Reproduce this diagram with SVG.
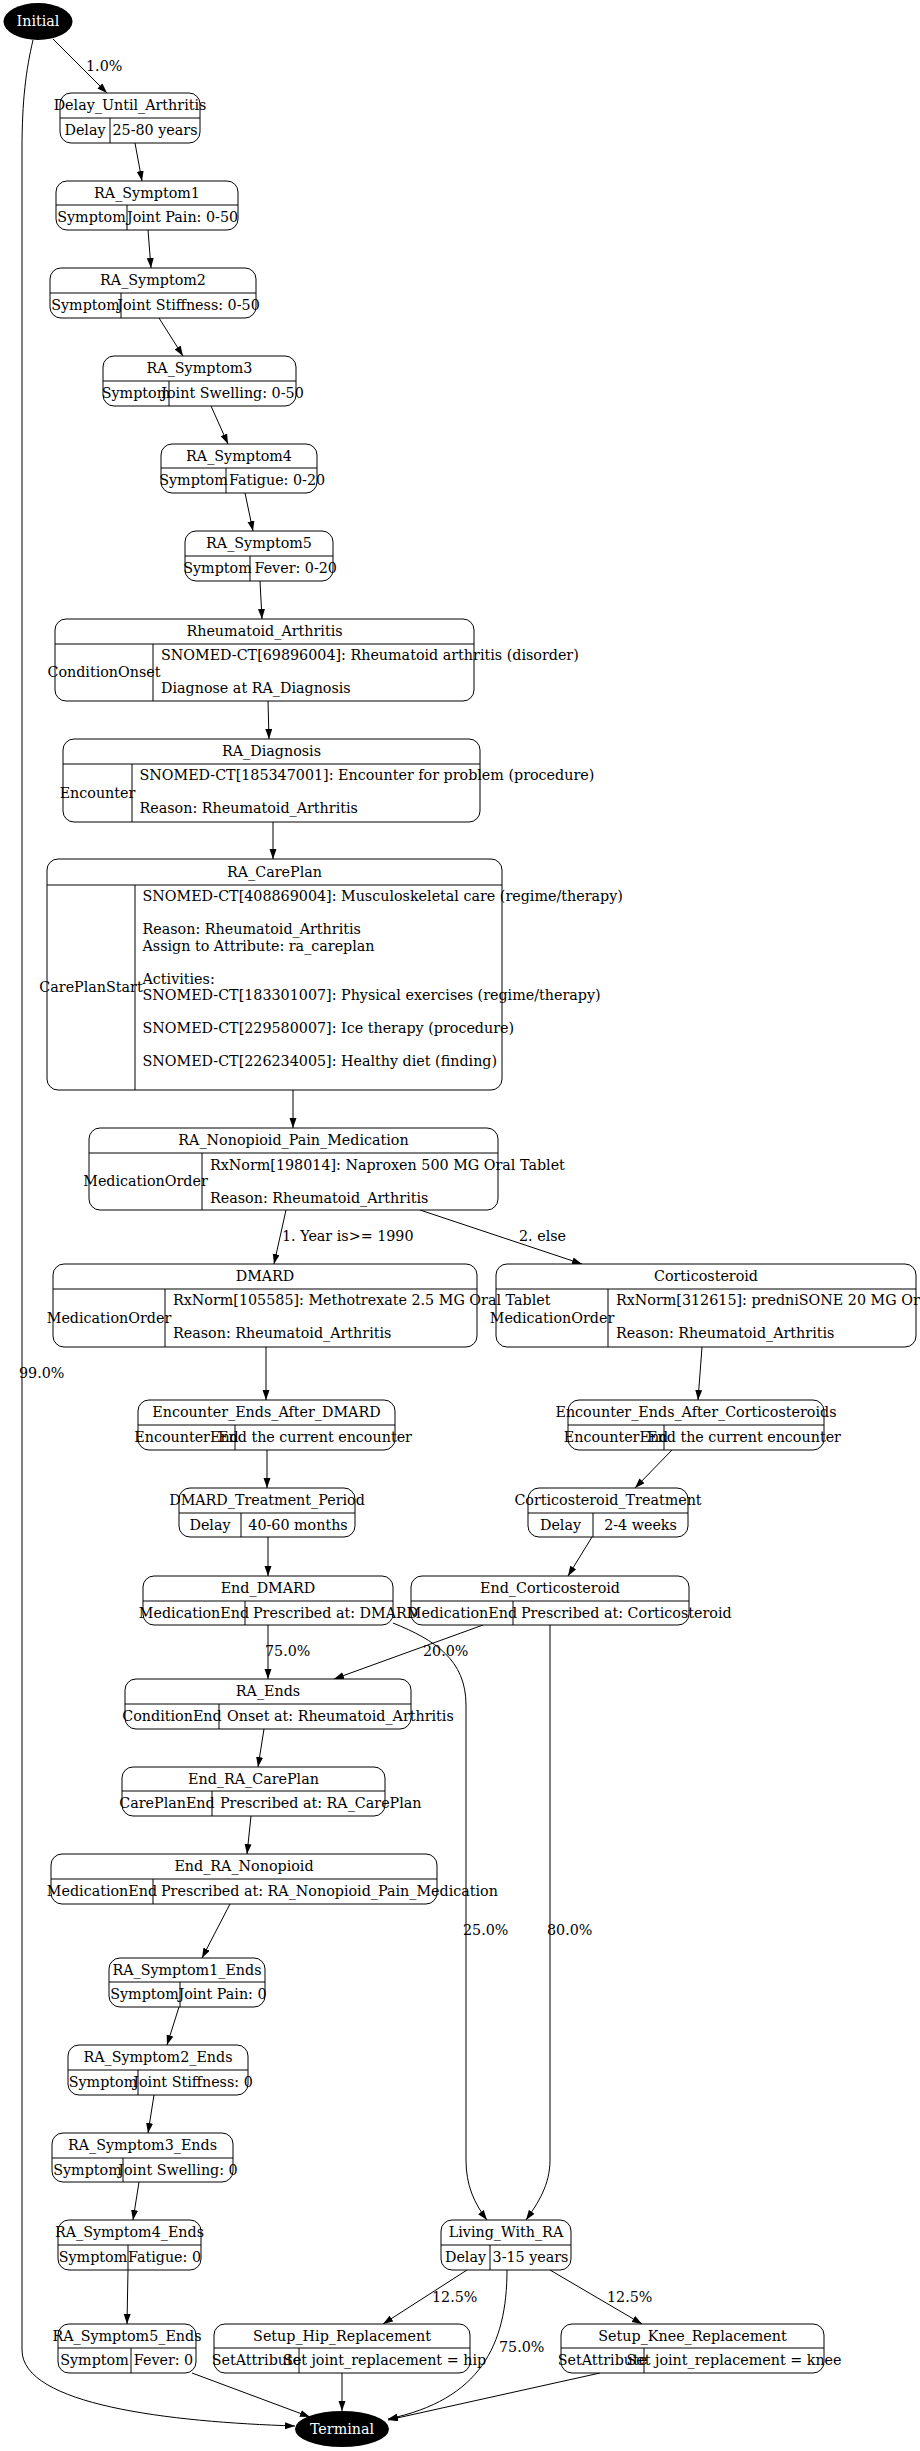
<svg xmlns="http://www.w3.org/2000/svg" width="920" height="2451" viewBox="0 0 920 2451">
<style>
text{font-family:"DejaVu Serif","Liberation Serif",serif;font-size:14.3px;fill:#000}
.c{text-anchor:middle}
.w{fill:#fff}
.n rect{fill:#fff;stroke:#000;stroke-width:1}
.n line{stroke:#000;stroke-width:1}
.e path{fill:none;stroke:#000;stroke-width:1}
</style>
<defs>
<marker id="ah" markerUnits="userSpaceOnUse" markerWidth="11" markerHeight="8" refX="10" refY="3.5" orient="auto">
<path d="M0,0 L10,3.5 L0,7 z" fill="#000"/>
</marker>
</defs>
<rect width="920" height="2451" fill="#fff"/>

<g id="edges" class="e">
<path marker-end="url(#ah)" d="M53,39 L107,93"/>
<path marker-end="url(#ah)" d="M33,40 C26,70 22,100 22,150 L22,2350 C22,2405 170,2422 295,2426"/>
<path marker-end="url(#ah)" d="M135,143 L142,181"/>
<path marker-end="url(#ah)" d="M148,230 L151,268"/>
<path marker-end="url(#ah)" d="M159,318 L183,356"/>
<path marker-end="url(#ah)" d="M211,406 L228,444"/>
<path marker-end="url(#ah)" d="M245,493 L253,531"/>
<path marker-end="url(#ah)" d="M260,581 L262,619"/>
<path marker-end="url(#ah)" d="M268,701 L269,739"/>
<path marker-end="url(#ah)" d="M273,822 L273,859"/>
<path marker-end="url(#ah)" d="M293,1090 L293,1128"/>
<path marker-end="url(#ah)" d="M286,1210 L274,1264"/>
<path marker-end="url(#ah)" d="M420,1210 L582,1264"/>
<path marker-end="url(#ah)" d="M266,1347 L266,1400"/>
<path marker-end="url(#ah)" d="M702,1347 L698,1400"/>
<path marker-end="url(#ah)" d="M267,1450 L267,1488"/>
<path marker-end="url(#ah)" d="M672,1450 L635,1488"/>
<path marker-end="url(#ah)" d="M268,1537 L268,1576"/>
<path marker-end="url(#ah)" d="M592,1537 L568,1576"/>
<path marker-end="url(#ah)" d="M268,1625 L268,1679"/>
<path marker-end="url(#ah)" d="M483,1625 L334,1679"/>
<path marker-end="url(#ah)" d="M393,1623 C435,1640 466,1660 466,1705 L466,2160 C466,2185 474,2203 487,2220"/>
<path marker-end="url(#ah)" d="M550,1625 L550,2160 C550,2185 538,2203 526,2220"/>
<path marker-end="url(#ah)" d="M264,1729 L258,1767"/>
<path marker-end="url(#ah)" d="M251,1816 L247,1854"/>
<path marker-end="url(#ah)" d="M230,1904 L202,1958"/>
<path marker-end="url(#ah)" d="M179,2007 L167,2045"/>
<path marker-end="url(#ah)" d="M154,2095 L148,2133"/>
<path marker-end="url(#ah)" d="M139,2182 L133,2220"/>
<path marker-end="url(#ah)" d="M128,2270 L127,2324"/>
<path marker-end="url(#ah)" d="M192,2373 L310,2417"/>
<path marker-end="url(#ah)" d="M342,2373 L342,2411"/>
<path marker-end="url(#ah)" d="M467,2270 L383,2324"/>
<path marker-end="url(#ah)" d="M550,2270 L642,2324"/>
<path marker-end="url(#ah)" d="M507,2270 C507,2345 480,2400 388,2419"/>
<path marker-end="url(#ah)" d="M600,2373 L388,2420"/>
<text x="86" y="70.5">1.0%</text>
<text x="19" y="1378">99.0%</text>
<text x="282" y="1241">1. Year is&gt;= 1990</text>
<text x="519" y="1241">2. else</text>
<text x="265" y="1656">75.0%</text>
<text x="423" y="1656">20.0%</text>
<text x="463" y="1935">25.0%</text>
<text x="547" y="1935">80.0%</text>
<text x="432" y="2302">12.5%</text>
<text x="607" y="2302">12.5%</text>
<text x="499" y="2352">75.0%</text>
</g>

<g id="Initial"><ellipse cx="38" cy="21.5" rx="34.5" ry="18.5" fill="#000"/><text class="c w" x="38" y="26">Initial</text></g>

<g id="Delay_Until_Arthritis" class="n"><rect x="60" y="93" width="140" height="50" rx="11"/><line x1="60" y1="118" x2="200" y2="118"/><line x1="110" y1="118" x2="110" y2="143"/>
<text class="c" x="130" y="110">Delay_Until_Arthritis</text><text class="c" x="85" y="135">Delay</text><text class="c" x="155" y="135">25-80 years</text></g>

<g id="RA_Symptom1" class="n"><rect x="56" y="181" width="182" height="49" rx="11"/><line x1="56" y1="205" x2="238" y2="205"/><line x1="127" y1="205" x2="127" y2="230"/>
<text class="c" x="147" y="197.5">RA_Symptom1</text><text class="c" x="91.5" y="222">Symptom</text><text class="c" x="182.5" y="222">Joint Pain: 0-50</text></g>

<g id="RA_Symptom2" class="n"><rect x="50" y="268" width="206" height="50" rx="11"/><line x1="50" y1="293" x2="256" y2="293"/><line x1="121" y1="293" x2="121" y2="318"/>
<text class="c" x="153" y="285">RA_Symptom2</text><text class="c" x="85.5" y="310">Symptom</text><text class="c" x="188.5" y="310">Joint Stiffness: 0-50</text></g>

<g id="RA_Symptom3" class="n"><rect x="103" y="356" width="193" height="50" rx="11"/><line x1="103" y1="381" x2="296" y2="381"/><line x1="169" y1="381" x2="169" y2="406"/>
<text class="c" x="199.5" y="373">RA_Symptom3</text><text class="c" x="136" y="398">Symptom</text><text class="c" x="232.5" y="398">Joint Swelling: 0-50</text></g>

<g id="RA_Symptom4" class="n"><rect x="161" y="444" width="156" height="49" rx="11"/><line x1="161" y1="468" x2="317" y2="468"/><line x1="226" y1="468" x2="226" y2="493"/>
<text class="c" x="239" y="460.5">RA_Symptom4</text><text class="c" x="193.5" y="485">Symptom</text><text x="229" y="485">Fatigue: 0-20</text></g>

<g id="RA_Symptom5" class="n"><rect x="185" y="531" width="148" height="50" rx="11"/><line x1="185" y1="556" x2="333" y2="556"/><line x1="250" y1="556" x2="250" y2="581"/>
<text class="c" x="259" y="548">RA_Symptom5</text><text class="c" x="217.5" y="573">Symptom</text><text x="254.5" y="573">Fever: 0-20</text></g>

<g id="Rheumatoid_Arthritis" class="n"><rect x="55" y="619" width="419" height="82" rx="11"/><line x1="55" y1="644" x2="474" y2="644"/><line x1="153" y1="644" x2="153" y2="701"/>
<text class="c" x="264.5" y="636">Rheumatoid_Arthritis</text><text class="c" x="104" y="677">ConditionOnset</text>
<text x="161" y="660">SNOMED-CT[69896004]: Rheumatoid arthritis (disorder)</text><text x="161" y="693">Diagnose at RA_Diagnosis</text></g>

<g id="RA_Diagnosis" class="n"><rect x="63" y="739" width="417" height="83" rx="11"/><line x1="63" y1="764" x2="480" y2="764"/><line x1="132" y1="764" x2="132" y2="822"/>
<text class="c" x="271.5" y="756">RA_Diagnosis</text><text class="c" x="97.5" y="797.5">Encounter</text>
<text x="139.5" y="780">SNOMED-CT[185347001]: Encounter for problem (procedure)</text><text x="139.5" y="813">Reason: Rheumatoid_Arthritis</text></g>

<g id="RA_CarePlan" class="n"><rect x="47" y="859" width="455" height="231" rx="11"/><line x1="47" y1="885" x2="502" y2="885"/><line x1="135" y1="885" x2="135" y2="1090"/>
<text class="c" x="274.5" y="876.5">RA_CarePlan</text><text class="c" x="91" y="992">CarePlanStart</text>
<text x="142.5" y="901">SNOMED-CT[408869004]: Musculoskeletal care (regime/therapy)</text>
<text x="142.5" y="934">Reason: Rheumatoid_Arthritis</text>
<text x="142.5" y="950.5">Assign to Attribute: ra_careplan</text>
<text x="142.5" y="983.5">Activities:</text>
<text x="142.5" y="1000">SNOMED-CT[183301007]: Physical exercises (regime/therapy)</text>
<text x="142.5" y="1033">SNOMED-CT[229580007]: Ice therapy (procedure)</text>
<text x="142.5" y="1066">SNOMED-CT[226234005]: Healthy diet (finding)</text></g>

<g id="RA_Nonopioid_Pain_Medication" class="n"><rect x="89" y="1128" width="409" height="82" rx="11"/><line x1="89" y1="1153" x2="498" y2="1153"/><line x1="202" y1="1153" x2="202" y2="1210"/>
<text class="c" x="293.5" y="1145">RA_Nonopioid_Pain_Medication</text><text class="c" x="145.5" y="1186">MedicationOrder</text>
<text x="210" y="1169.5">RxNorm[198014]: Naproxen 500 MG Oral Tablet</text><text x="210" y="1202.5">Reason: Rheumatoid_Arthritis</text></g>

<g id="Corticosteroid" class="n"><rect x="496" y="1264" width="420" height="83" rx="11"/><line x1="496" y1="1289" x2="916" y2="1289"/><line x1="608" y1="1289" x2="608" y2="1347"/>
<text class="c" x="706" y="1281">Corticosteroid</text><text class="c" x="552" y="1322.5">MedicationOrder</text>
<text x="616" y="1305">RxNorm[312615]: predniSONE 20 MG Oral Tablet</text><text x="616" y="1338">Reason: Rheumatoid_Arthritis</text></g>

<g id="DMARD" class="n"><rect x="53" y="1264" width="424" height="83" rx="11"/><line x1="53" y1="1289" x2="477" y2="1289"/><line x1="165" y1="1289" x2="165" y2="1347"/>
<text class="c" x="265" y="1281">DMARD</text><text class="c" x="109" y="1322.5">MedicationOrder</text>
<text x="173" y="1305">RxNorm[105585]: Methotrexate 2.5 MG Oral Tablet</text><text x="173" y="1338">Reason: Rheumatoid_Arthritis</text></g>

<g id="Encounter_Ends_After_DMARD" class="n"><rect x="138" y="1400" width="257" height="50" rx="11"/><line x1="138" y1="1425" x2="395" y2="1425"/><line x1="235" y1="1425" x2="235" y2="1450"/>
<text class="c" x="266.5" y="1417">Encounter_Ends_After_DMARD</text><text class="c" x="186.5" y="1442">EncounterEnd</text><text class="c" x="315" y="1442">End the current encounter</text></g>

<g id="Encounter_Ends_After_Corticosteroids" class="n"><rect x="568" y="1400" width="256" height="50" rx="11"/><line x1="568" y1="1425" x2="824" y2="1425"/><line x1="664" y1="1425" x2="664" y2="1450"/>
<text class="c" x="696" y="1417">Encounter_Ends_After_Corticosteroids</text><text class="c" x="616" y="1442">EncounterEnd</text><text class="c" x="744" y="1442">End the current encounter</text></g>

<g id="DMARD_Treatment_Period" class="n"><rect x="179" y="1488" width="176" height="49" rx="11"/><line x1="179" y1="1513" x2="355" y2="1513"/><line x1="241" y1="1513" x2="241" y2="1537"/>
<text class="c" x="267" y="1505">DMARD_Treatment_Period</text><text class="c" x="210" y="1529.5">Delay</text><text class="c" x="298" y="1529.5">40-60 months</text></g>

<g id="Corticosteroid_Treatment" class="n"><rect x="528" y="1488" width="160" height="49" rx="11"/><line x1="528" y1="1513" x2="688" y2="1513"/><line x1="593" y1="1513" x2="593" y2="1537"/>
<text class="c" x="608" y="1505">Corticosteroid_Treatment</text><text class="c" x="560.5" y="1529.5">Delay</text><text class="c" x="640.5" y="1529.5">2-4 weeks</text></g>

<g id="End_Corticosteroid" class="n"><rect x="411" y="1576" width="278" height="49" rx="11"/><line x1="411" y1="1601" x2="689" y2="1601"/><line x1="513" y1="1601" x2="513" y2="1625"/>
<text class="c" x="550" y="1593">End_Corticosteroid</text><text class="c" x="462" y="1617.5">MedicationEnd</text><text x="521" y="1617.5">Prescribed at: Corticosteroid</text></g>

<g id="End_DMARD" class="n"><rect x="143" y="1576" width="250" height="49" rx="11"/><line x1="143" y1="1601" x2="393" y2="1601"/><line x1="245" y1="1601" x2="245" y2="1625"/>
<text class="c" x="268" y="1593">End_DMARD</text><text class="c" x="194" y="1617.5">MedicationEnd</text><text x="253" y="1617.5">Prescribed at: DMARD</text></g>

<g id="RA_Ends" class="n"><rect x="125" y="1679" width="286" height="50" rx="11"/><line x1="125" y1="1704" x2="411" y2="1704"/><line x1="219" y1="1704" x2="219" y2="1729"/>
<text class="c" x="268" y="1696">RA_Ends</text><text class="c" x="172" y="1721">ConditionEnd</text><text x="227" y="1721">Onset at: Rheumatoid_Arthritis</text></g>

<g id="End_RA_CarePlan" class="n"><rect x="122" y="1767" width="263" height="49" rx="11"/><line x1="122" y1="1791" x2="385" y2="1791"/><line x1="212" y1="1791" x2="212" y2="1816"/>
<text class="c" x="253.5" y="1783.5">End_RA_CarePlan</text><text class="c" x="167" y="1808">CarePlanEnd</text><text x="220" y="1808">Prescribed at: RA_CarePlan</text></g>

<g id="End_RA_Nonopioid" class="n"><rect x="51" y="1854" width="386" height="50" rx="11"/><line x1="51" y1="1879" x2="437" y2="1879"/><line x1="153" y1="1879" x2="153" y2="1904"/>
<text class="c" x="244" y="1871">End_RA_Nonopioid</text><text class="c" x="102" y="1896">MedicationEnd</text><text x="161" y="1896">Prescribed at: RA_Nonopioid_Pain_Medication</text></g>

<g id="RA_Symptom1_Ends" class="n"><rect x="109" y="1958" width="156" height="49" rx="11"/><line x1="109" y1="1982" x2="265" y2="1982"/><line x1="180" y1="1982" x2="180" y2="2007"/>
<text class="c" x="187" y="1974.5">RA_Symptom1_Ends</text><text class="c" x="144.5" y="1999">Symptom</text><text class="c" x="222.5" y="1999">Joint Pain: 0</text></g>

<g id="RA_Symptom2_Ends" class="n"><rect x="68" y="2045" width="180" height="50" rx="11"/><line x1="68" y1="2070" x2="248" y2="2070"/><line x1="138" y1="2070" x2="138" y2="2095"/>
<text class="c" x="158" y="2062">RA_Symptom2_Ends</text><text class="c" x="103" y="2087">Symptom</text><text class="c" x="193" y="2087">Joint Stiffness: 0</text></g>

<g id="RA_Symptom3_Ends" class="n"><rect x="52" y="2133" width="181" height="49" rx="11"/><line x1="52" y1="2158" x2="233" y2="2158"/><line x1="123" y1="2158" x2="123" y2="2182"/>
<text class="c" x="142.5" y="2150">RA_Symptom3_Ends</text><text class="c" x="87.5" y="2174.5">Symptom</text><text class="c" x="178" y="2174.5">Joint Swelling: 0</text></g>

<g id="RA_Symptom4_Ends" class="n"><rect x="58" y="2220" width="143" height="50" rx="11"/><line x1="58" y1="2245" x2="201" y2="2245"/><line x1="128" y1="2245" x2="128" y2="2270"/>
<text class="c" x="129.5" y="2237">RA_Symptom4_Ends</text><text class="c" x="93" y="2262">Symptom</text><text class="c" x="164.5" y="2262">Fatigue: 0</text></g>

<g id="RA_Symptom5_Ends" class="n"><rect x="58" y="2324" width="138" height="49" rx="11"/><line x1="58" y1="2348" x2="196" y2="2348"/><line x1="131" y1="2348" x2="131" y2="2373"/>
<text class="c" x="127" y="2340.5">RA_Symptom5_Ends</text><text class="c" x="94.5" y="2365">Symptom</text><text class="c" x="163.5" y="2365">Fever: 0</text></g>

<g id="Living_With_RA" class="n"><rect x="441" y="2220" width="130" height="50" rx="11"/><line x1="441" y1="2245" x2="571" y2="2245"/><line x1="490" y1="2245" x2="490" y2="2270"/>
<text class="c" x="506" y="2237">Living_With_RA</text><text class="c" x="465.5" y="2262">Delay</text><text class="c" x="530.5" y="2262">3-15 years</text></g>

<g id="Setup_Hip_Replacement" class="n"><rect x="214" y="2324" width="256" height="49" rx="11"/><line x1="214" y1="2348" x2="470" y2="2348"/><line x1="299" y1="2348" x2="299" y2="2373"/>
<text class="c" x="342" y="2340.5">Setup_Hip_Replacement</text><text class="c" x="256.5" y="2365">SetAttribute</text><text class="c" x="384.5" y="2365">Set joint_replacement = hip</text></g>

<g id="Setup_Knee_Replacement" class="n"><rect x="561" y="2324" width="263" height="49" rx="11"/><line x1="561" y1="2348" x2="824" y2="2348"/><line x1="644" y1="2348" x2="644" y2="2373"/>
<text class="c" x="692.5" y="2340.5">Setup_Knee_Replacement</text><text class="c" x="602.5" y="2365">SetAttribute</text><text class="c" x="734" y="2365">Set joint_replacement = knee</text></g>

<g id="Terminal"><ellipse cx="342" cy="2429" rx="47" ry="18" fill="#000"/><text class="c w" x="342" y="2434">Terminal</text></g>
</svg>
